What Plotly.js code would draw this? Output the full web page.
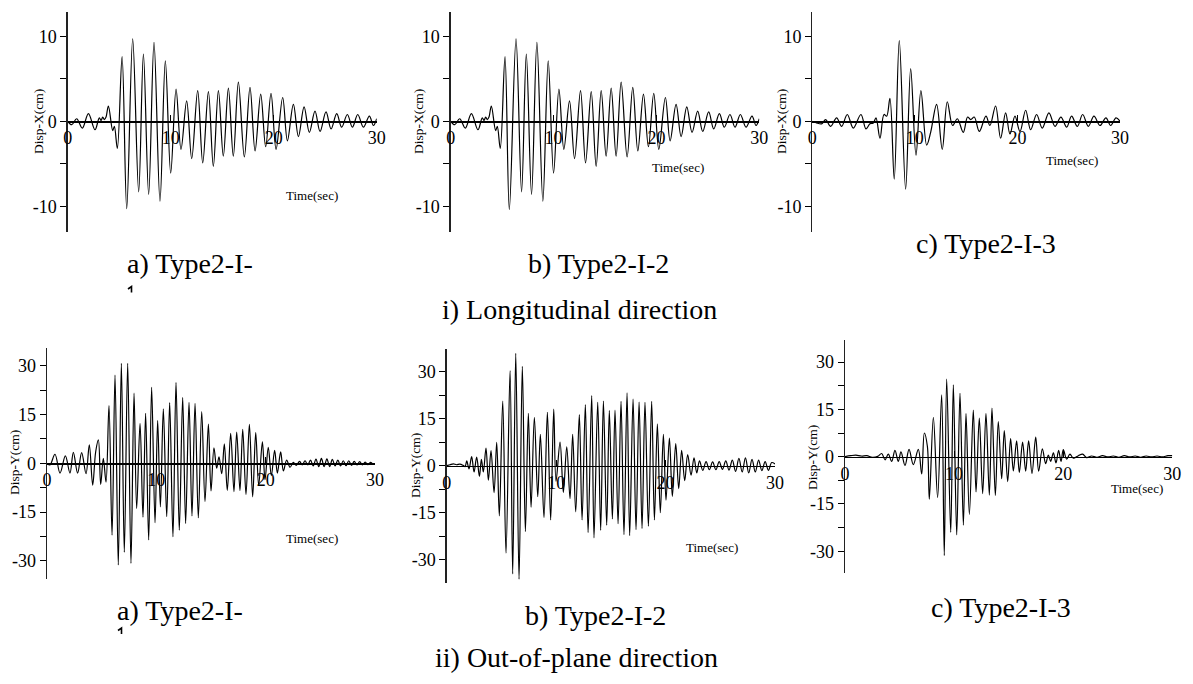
<!DOCTYPE html>
<html><head><meta charset="utf-8">
<script src="https://cdn.plot.ly/plotly-3.0.1.min.js"></script>
<style>html,body{margin:0;padding:0;background:#fff}#chart{width:1193px;height:684px}</style>
</head><body><div id="chart"></div>
<script>
// ---- data (time in sec, displacement in cm; extremes of each cycle) ----
const timeX1 = [0,0.39,0.87,1.42,2.01,2.65,3.07,3.24,3.40,3.56,3.72,3.95,4.37,4.53,4.82,5.28,5.73,6.31,6.89,7.35,7.86,8.38,8.96,9.48,10.0,10.52,11.0,11.55,12.04,12.62,13.11,13.66,14.14,14.63,15.11,15.6,16.08,16.57,17.15,17.70,18.19,18.74,19.22,19.74,20.23,20.87,21.33,21.91,22.4,22.95,23.46,24.01,24.5,25.08,25.57,26.12,26.6,27.15,27.64,28.16,28.71,29.29,29.68,30];
const dispX1 = [0,-0.4,0.3,-0.8,0.9,-1.0,0.4,0.1,0.5,0.2,0.5,1.8,-1.1,-0.6,-3.2,7.6,-10.3,9.7,-8.3,7.9,-8.6,9.3,-9.4,7.1,-6.1,3.8,-3.3,2.4,-4.4,3.6,-4.9,3.5,-5.3,3.6,-4.1,3.9,-4.1,4.6,-4.2,4.0,-3.5,3.2,-3.0,3.3,-3.3,2.8,-2.3,2.0,-1.8,1.7,-1.3,1.2,-1.2,1.1,-0.9,0.9,-0.7,0.8,-0.7,0.8,-0.7,0.6,-0.5,0.3];

const timeX2 = [0,0.39,0.87,1.42,2.01,2.65,3.07,3.24,3.40,3.56,3.72,3.95,4.37,4.53,4.82,5.28,5.70,6.35,6.89,7.35,7.86,8.38,8.96,9.48,10.0,10.52,11.0,11.55,12.04,12.62,13.11,13.66,14.14,14.63,15.11,15.6,16.08,16.57,17.15,17.70,18.19,18.74,19.22,19.74,20.23,20.87,21.33,21.91,22.4,22.95,23.46,24.01,24.5,25.08,25.57,26.12,26.6,27.15,27.64,28.16,28.71,29.29,29.68,30];
const dispX2 = [0,-0.4,0.3,-0.8,0.9,-1.0,0.4,0.1,0.5,0.2,0.5,1.8,-1.1,-0.6,-3.2,7.6,-10.4,9.7,-8.3,7.9,-8.6,9.3,-9.4,7.1,-6.1,3.8,-3.3,2.4,-4.4,3.6,-4.9,3.5,-5.3,3.6,-4.1,3.9,-4.1,4.6,-4.2,4.0,-3.5,3.2,-3.0,3.3,-3.3,2.8,-2.3,2.0,-1.8,1.7,-1.3,1.2,-1.2,1.1,-0.9,0.9,-0.7,0.8,-0.7,0.8,-0.7,0.6,-0.5,0.3];

const timeX3 = [0,0.42,0.91,1.30,1.79,2.37,2.86,3.41,4.0,4.74,5.23,5.62,5.95,6.21,6.60,6.99,7.25,7.57,7.99,8.48,9.10,9.59,10.11,10.59,11.15,11.54,12.12,12.67,13.16,13.68,14.14,14.72,15.14,15.44,15.79,16.28,16.93,17.32,17.87,18.36,18.85,19.27,19.76,20.25,20.80,21.29,21.87,22.42,23.07,23.66,24.24,24.80,25.28,25.84,26.36,26.91,27.46,28.05,28.63,29.09,29.61,30];
const dispX3 = [0,-0.2,-0.3,0.2,-0.6,0.4,-0.6,0.8,-0.8,0.8,-0.9,-0.3,-0.2,0.4,-2.0,0.8,0.6,2.7,-6.8,9.5,-8.0,6.2,-4.0,3.6,-2.8,-1.3,2.0,-3.3,2.3,-0.5,0.3,-1.3,0.5,0.2,0.5,-1.2,0.6,-0.5,1.8,-2.0,1.0,-1.5,0.6,-1.2,1.3,-1.0,0.8,-0.8,1.0,-0.6,0.5,-0.7,0.6,-0.6,0.8,-0.6,0.6,-0.5,0.4,-0.5,0.4,0];

const timeY1 = [0,0.27,0.73,1.19,1.68,2.10,2.41,2.80,3.17,3.57,3.87,4.18,4.45,4.70,4.91,5.15,5.40,5.67,5.95,6.22,6.52,6.80,7.07,7.38,7.68,7.96,8.20,8.51,8.78,9.02,9.30,9.57,9.88,10.12,10.37,10.64,10.95,11.22,11.52,11.80,12.10,12.41,12.68,12.99,13.26,13.54,13.84,14.15,14.45,14.76,15.0,15.27,15.52,15.73,15.98,16.22,16.49,16.80,17.10,17.35,17.65,17.90,18.20,18.51,18.81,19.09,19.36,19.70,19.94,20.24,20.52,20.82,21.07,21.37,21.62,21.92,22.23,22.53,22.8,23.1,23.35,23.6,23.85,24.1,24.35,24.6,24.85,25.1,25.35,25.6,25.85,26.1,26.35,26.6,26.85,27.1,27.35,27.6,27.85,28.1,28.35,28.6,28.85,29.1,29.35,29.6,29.85,30];
const dispY1 = [0,-0.5,2.8,-3.0,2.3,-3.0,3.4,-3.0,3.3,-3.2,5.7,-6.7,3.5,7.2,-6.5,1.5,-5.8,17.8,-22.1,27.2,-31.3,30.8,-27.4,30.8,-30.8,21.6,-13.9,12.3,-16.6,15.4,-23.6,23.4,-18.3,13.2,-13.4,16.8,-16.4,18.7,-22.6,24.9,-20.6,20.3,-18.5,18.8,-16.2,18.5,-16.8,15.9,-11.8,12.1,-8.5,4.8,-1.5,2.0,-3.2,6.0,-8.3,9.2,-8.7,9.6,-8.4,10.5,-9.6,12.0,-10.3,9.5,-6.8,6.6,-5.0,4.9,-3.8,4.0,-3.0,3.5,-2.3,1.0,-1.2,0.3,-0.6,0.6,-0.5,0.8,-0.5,1.0,-0.8,1.3,-1.0,1.5,-1.0,1.4,-1.0,1.2,-0.8,1.0,-0.8,0.8,-0.7,0.8,-0.6,0.6,-0.5,0.5,-0.5,0.4,-0.4,0.3,-0.3,0];

const timeY2 = [0,0.3,0.6,0.9,1.2,1.5,1.68,1.83,2.04,2.28,2.50,2.74,2.99,3.17,3.35,3.59,3.81,4.05,4.33,4.57,4.81,5.12,5.42,5.79,6.03,6.31,6.61,6.91,7.19,7.46,7.71,8.01,8.32,8.56,8.89,9.20,9.50,9.78,9.99,10.36,10.66,10.97,11.27,11.51,11.79,12.12,12.37,12.67,12.92,13.25,13.46,13.80,14.07,14.32,14.62,14.86,15.14,15.38,15.66,15.93,16.20,16.48,16.72,17.03,17.30,17.58,17.85,18.12,18.43,18.73,18.98,19.25,19.52,19.80,20.04,20.35,20.62,20.93,21.20,21.47,21.75,22.02,22.33,22.60,22.85,23.1,23.4,23.7,24.0,24.3,24.6,24.9,25.2,25.5,25.8,26.1,26.4,26.7,27.0,27.3,27.6,27.9,28.2,28.5,28.8,29.1,29.4,29.7,30];
const dispY2 = [0,0.3,0.6,0.3,0.5,0.1,-0.3,1.5,-1.0,2.9,-2.0,2.7,-3.4,2.0,-2.0,5.6,-4.6,4.8,-8.6,7.4,-16.0,20.6,-27.9,30.3,-34.5,35.8,-36.2,31.7,-21.0,16.7,-13.3,15.4,-9.9,10.0,-16.5,17.0,-17.3,18.0,-5.0,7.5,-8.5,6.0,-10.5,10.0,-14.7,16.3,-17.3,19.5,-21.3,22.3,-23.0,20.2,-20.6,20.6,-19.0,17.6,-17.0,17.7,-18.5,20.5,-22.0,23.2,-22.3,21.2,-20.4,20.3,-20.0,20.2,-19.3,20.5,-17.3,13.3,-15.0,10.0,-11.0,8.8,-9.8,7.0,-7.3,4.9,-4.8,3.5,-3.0,2.5,-2.3,1.5,-1.5,1.3,-1.3,1.2,-1.3,1.3,-1.2,1.5,-1.4,1.8,-1.8,2.3,-2.0,2.5,-2.3,2.0,-2.0,1.8,-1.6,1.3,-1.5,1.0,0.5];

const timeY3 = [0,0.5,1.0,1.5,2.0,2.5,3.0,3.36,3.67,3.97,4.28,4.58,4.89,5.13,5.50,5.87,6.26,6.72,7.03,7.27,7.55,7.73,8.10,8.49,8.86,9.10,9.32,9.69,9.93,10.24,10.54,10.85,11.09,11.40,11.76,12.01,12.31,12.62,12.92,13.23,13.47,13.78,14.05,14.36,14.60,14.91,15.18,15.43,15.73,15.98,16.28,16.56,16.83,17.14,17.48,17.75,18.09,18.39,18.64,18.85,19.10,19.34,19.58,19.80,20.01,20.32,20.62,20.93,21.39,21.78,22.15,22.6,23.1,23.6,24.1,24.6,25.1,25.6,26.1,26.6,27.1,27.6,28.1,28.6,29.1,29.6,30];
const dispY3 = [0,0.3,0.5,0.2,0.3,-0.2,0.1,1.0,-1.0,0.8,-1.5,2.0,-1.5,1.5,-2.8,2.3,-2.5,2.3,-5.5,7.5,3.3,-13.5,12.5,-13.0,19.6,-31.4,24.6,-24.0,22.8,-24.8,20.1,-21.7,13.7,-18.3,14.8,-11.2,12.2,-11.7,13.7,-12.2,15.4,-12.3,11.1,-7.0,8.3,-7.9,5.7,-4.5,5.0,-5.0,4.6,-4.6,5.0,-5.3,6.2,-4.6,2.5,-2.2,0.5,-1.5,1.2,-2.0,2.0,-1.5,2.2,-0.8,0.8,-0.5,0.3,0.8,-0.3,0.2,-0.2,0.3,-0.1,0.2,-0.2,0.3,-0.1,0.2,-0.2,0.2,-0.1,0.2,-0.1,0.3,0.3];

// ---- tick labels and texts ----
const xTickVals = [0,10,20,30];
const xTickText = ['0','10','20','30'];
const yTickValsX = [-10,-5,0,5,10];
const yTickTextX = ['-10','','0','','10'];
const yTickValsY = [-30,-22.5,-15,-7.5,0,7.5,15,22.5,30];
const yTickTextY = ['-30','','-15','','0','','15','','30'];
const yTitleX = 'Disp-X(cm)';
const yTitleY = 'Disp-Y(cm)';
const xTitle = 'Time(sec)';
const captionsTop = ['a) Type2-I-','b) Type2-I-2','c) Type2-I-3'];
const captionsBottom = ['a) Type2-I-','b) Type2-I-2','c) Type2-I-3'];
const groupTitles = ['i) Longitudinal direction','ii) Out-of-plane direction'];

// ---- layout (pixel geometry) ----
const W = 1193, H = 684;
const fx = p => p / W, fy = p => 1 - p / H;
const FONT = 'Liberation Serif, Times New Roman, serif';

const panels = [
  {t: timeX1, v: dispX1, xpx: [67.7, 376.7], ypx: [11.7, 231.7], range: [-13, 12.9], tv: yTickValsX, tt: yTickTextX,
   ytitle: yTitleX, ytPos: [39, 122], xtPos: [312, 196]},
  {t: timeX2, v: dispX2, xpx: [450.7, 759.3], ypx: [11.7, 231.7], range: [-13, 12.9], tv: yTickValsX, tt: yTickTextX,
   ytitle: yTitleX, ytPos: [419, 122], xtPos: [678, 167]},
  {t: timeX3, v: dispX3, xpx: [812.3, 1120], ypx: [11.7, 231.7], range: [-13, 12.9], tv: yTickValsX, tt: yTickTextX,
   ytitle: yTitleX, ytPos: [782, 122], xtPos: [1072, 160]},
  {t: timeY1, v: dispY1, xpx: [47, 375], ypx: [347.7, 579.3], range: [-35.7, 35.6], tv: yTickValsY, tt: yTickTextY,
   ytitle: yTitleY, ytPos: [14, 463], xtPos: [312, 538]},
  {t: timeY2, v: dispY2, xpx: [446.7, 775], ypx: [349.3, 583.3], range: [-37.5, 37.1], tv: yTickValsY, tt: yTickTextY,
   ytitle: yTitleY, ytPos: [415, 466], xtPos: [712, 547]},
  {t: timeY3, v: dispY3, xpx: [845, 1172.3], ypx: [340, 573.3], range: [-37, 37], tv: yTickValsY, tt: yTickTextY,
   ytitle: yTitleY, ytPos: [812, 457], xtPos: [1137, 488]}
];

const data = [];
const layout = {
  width: W, height: H, margin: {l: 0, r: 0, t: 0, b: 0, pad: 0},
  showlegend: false, paper_bgcolor: '#fff', plot_bgcolor: 'rgba(0,0,0,0)',
  font: {family: FONT, color: '#000'},
  annotations: [], shapes: []
};

panels.forEach((p, i) => {
  const s = i === 0 ? '' : String(i + 1);
  data.push({
    x: p.t, y: p.v, xaxis: 'x' + s, yaxis: 'y' + s, type: 'scatter', mode: 'lines',
    line: {color: '#000', width: 1.2, shape: 'spline', smoothing: 1}, hoverinfo: 'skip'
  });
  const yd = [fy(p.ypx[1]), fy(p.ypx[0])];
  const zeroPos = yd[0] + (0 - p.range[0]) / (p.range[1] - p.range[0]) * (yd[1] - yd[0]);
  layout['xaxis' + s] = {
    domain: [fx(p.xpx[0]), fx(p.xpx[1])], range: [0, 30], anchor: 'free', position: zeroPos,
    showline: true, linecolor: '#000', linewidth: 1.3, ticks: 'inside', ticklen: 6, tickwidth: 1, tickcolor: '#000',
    tickmode: 'array', tickvals: xTickVals, ticktext: xTickText, showgrid: false, zeroline: false,
    tickfont: {family: FONT, size: 18, color: '#000'}, fixedrange: true
  };
  layout['yaxis' + s] = {
    domain: yd, range: p.range, anchor: 'x' + s,
    showline: true, linecolor: '#222', linewidth: 1.3, ticks: 'outside', ticklen: 6, tickwidth: 1, tickcolor: '#000',
    tickmode: 'array', tickvals: p.tv, ticktext: p.tt, showgrid: false, zeroline: false,
    tickfont: {family: FONT, size: 18, color: '#000'}, fixedrange: true
  };
  layout.annotations.push({
    text: p.ytitle, xref: 'paper', yref: 'paper', x: fx(p.ytPos[0]), y: fy(p.ytPos[1]),
    xanchor: 'center', yanchor: 'middle', textangle: -90, showarrow: false,
    font: {family: FONT, size: 13.5, color: '#000'}
  });
  layout.annotations.push({
    text: xTitle, xref: 'paper', yref: 'paper', x: fx(p.xtPos[0]), y: fy(p.xtPos[1]),
    xanchor: 'center', yanchor: 'middle', showarrow: false,
    font: {family: FONT, size: 13, color: '#000'}
  });
});

function cap(text, x, y, anchor) {
  layout.annotations.push({
    text: text, xref: 'paper', yref: 'paper', x: fx(x), y: fy(y),
    xanchor: anchor, yanchor: 'middle', showarrow: false,
    font: {family: FONT, size: 28, color: '#000'}
  });
}
cap(captionsTop[0], 125, 263, 'left');
cap(captionsTop[1], 598, 263, 'center');
cap(captionsTop[2], 986, 243, 'center');
cap(groupTitles[0], 579, 309, 'center');
cap(captionsBottom[0], 115, 610, 'left');
cap(captionsBottom[1], 595, 615, 'center');
cap(captionsBottom[2], 1001, 607, 'center');
cap(groupTitles[1], 576, 657, 'center');

// clipped top of the wrapped "1" under the a) captions
function flag(x, y) {
  const path = 'M ' + fx(x) + ' ' + fy(y + 2.5) + ' L ' + fx(x + 3.5) + ' ' + fy(y) + ' L ' + fx(x + 3.5) + ' ' + fy(y + 6);
  layout.shapes.push({type: 'path', xref: 'paper', yref: 'paper', path: path, line: {color: '#000', width: 1.6}});
}
flag(128, 286.5);
flag(118, 628);

Plotly.newPlot('chart', data, layout, {staticPlot: true, displayModeBar: false});
</script>
</body></html>
